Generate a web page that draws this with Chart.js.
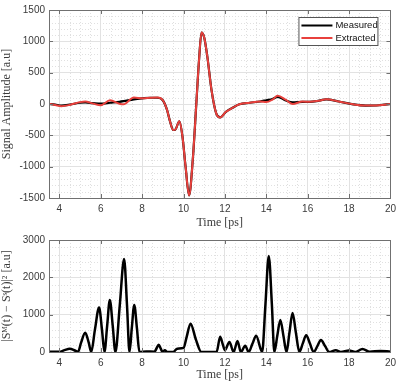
<!DOCTYPE html>
<html>
<head>
<meta charset="utf-8">
<script src="https://cdn.jsdelivr.net/npm/chart.js@4"></script>
<style>
    body { margin: 0; background: #fff; width: 401px; height: 382px; overflow: hidden; }
    canvas { position: absolute; left: 0; }
    #signalChart { top: 0; }
    #errorChart { top: 230px; }
</style>
</head>
<body>
<canvas id="signalChart" width="401" height="230"></canvas>
<canvas id="errorChart" width="401" height="152"></canvas>
<script>
// time axis ticks (ps)
const timeTicks = [4, 6, 8, 10, 12, 14, 16, 18, 20];

// top panel: measured vs extracted signal
const signalTime = [3.5, 3.8, 4.1, 4.5, 5.0, 5.25, 5.6, 6.0, 6.45, 6.9, 7.1, 7.6, 8.0, 8.4, 8.75, 9.0, 9.2, 9.35, 9.5, 9.6, 9.8, 9.95, 10.1, 10.27, 10.45, 10.62, 10.75, 10.87, 11.0, 11.15, 11.35, 11.58, 11.77, 12.05, 12.4, 12.7, 13.2, 13.7, 14.0, 14.3, 14.55, 14.95, 15.28, 15.75, 16.1, 16.5, 16.9, 17.5, 18.2, 18.8, 19.45, 20];
const measured = [0, -10, -25, -10, 20, 25, 15, 5, 20, 35, 45, 75, 90, 100, 100, 60, -90, -280, -415, -410, -275, -520, -1000, -1460, -880, 10, 700, 1140, 1060, 760, 230, -150, -215, -125, -55, -5, 20, 40, 60, 80, 115, 55, 25, 35, 35, 50, 75, 40, -5, -25, -20, 0];
const extracted = [5, -15, -35, -15, 30, 40, 10, -20, 60, 5, -5, 105, 90, 100, 105, 60, -90, -280, -415, -410, -275, -520, -1000, -1460, -880, 10, 700, 1140, 1060, 760, 230, -150, -215, -125, -55, -5, 20, 40, 30, 70, 130, 65, 0, 40, 35, 50, 75, 40, -5, -25, -20, 0];
const signalTicks = [-1500, -1000, -500, 0, 500, 1000, 1500];

// bottom panel: squared difference
const errorTime = [3.5, 4.0, 4.25, 4.5, 4.75, 4.9, 5.05, 5.25, 5.42, 5.54, 5.72, 5.92, 6.06, 6.18, 6.31, 6.44, 6.58, 6.71, 6.92, 7.13, 7.27, 7.39, 7.5, 7.62, 7.75, 7.87, 8.2, 8.6, 8.7, 8.8, 8.9, 8.99, 9.1, 9.2, 9.5, 9.7, 10.0, 10.15, 10.34, 10.6, 10.86, 11.6, 11.77, 11.9, 12.0, 12.22, 12.42, 12.61, 12.77, 12.98, 13.15, 13.33, 13.51, 13.8, 13.96, 14.12, 14.27, 14.39, 14.53, 14.68, 14.83, 14.98, 15.12, 15.27, 15.43, 15.6, 15.76, 15.93, 16.11, 16.29, 16.47, 16.64, 16.84, 17.04, 17.36, 17.6, 18.0, 18.3, 18.65, 19.0, 19.5, 20];
const errorValues = [5, 5, 50, 90, 40, 0, 250, 515, 250, 0, 600, 1190, 600, 0, 700, 1395, 700, 0, 1250, 2490, 1250, 0, 630, 1260, 630, 0, 15, 10, 100, 195, 90, 0, 50, 0, 0, 90, 110, 400, 760, 330, 0, 0, 410, 200, 50, 270, 0, 295, 0, 165, 0, 220, 435, 0, 1280, 2570, 1280, 0, 430, 860, 430, 0, 520, 1045, 520, 0, 225, 450, 225, 0, 160, 320, 160, 0, 50, 0, 40, 0, 80, 5, 30, 10];
const errorTicks = [0, 1000, 2000, 3000];

const toPoints = (xs, ys) => xs.map((x, i) => ({ x: x, y: ys[i] }));

// minor grid, axes box, inward ticks and the legend box
const framePlugin = {
    id: "frame",
    beforeDatasetsDraw(chart, args, opts) {
        const { ctx, chartArea: a, scales: { x, y } } = chart;
        ctx.save();
        ctx.strokeStyle = "#e0e0e0";
        ctx.lineWidth = 1;
        ctx.setLineDash([1, 2]);
        ctx.beginPath();
        for (let v = x.min; v <= x.max; v += 0.5) {
            if (v % 2 === 0) continue;
            const px = Math.round(x.getPixelForValue(v)) + 0.5;
            ctx.moveTo(px, a.top);
            ctx.lineTo(px, a.bottom);
        }
        for (let v = y.min; v <= y.max; v += opts.yMinor) {
            if (v % opts.yMajor === 0) continue;
            const py = Math.round(y.getPixelForValue(v)) + 0.5;
            ctx.moveTo(a.left, py);
            ctx.lineTo(a.right, py);
        }
        ctx.stroke();
        ctx.restore();
    },
    afterDatasetsDraw(chart, args, opts) {
        const { ctx, chartArea: a, scales: { x, y } } = chart;
        ctx.save();
        ctx.strokeStyle = "#707070";
        ctx.lineWidth = 1;
        ctx.beginPath();
        timeTicks.forEach(v => {
            const px = Math.round(x.getPixelForValue(v)) + 0.5;
            ctx.moveTo(px, a.bottom); ctx.lineTo(px, a.bottom - 4);
            ctx.moveTo(px, a.top); ctx.lineTo(px, a.top + 4);
        });
        opts.yTicks.forEach(v => {
            const py = Math.round(y.getPixelForValue(v)) + 0.5;
            ctx.moveTo(a.left, py); ctx.lineTo(a.left + 4, py);
            ctx.moveTo(a.right, py); ctx.lineTo(a.right - 4, py);
        });
        ctx.stroke();
        ctx.strokeRect(Math.round(a.left) + 0.5, Math.round(a.top) + 0.5, Math.round(a.right - a.left), Math.round(a.bottom - a.top));

        if (opts.legend) {
            const bx = a.right - 92, by = a.top + 7;
            ctx.fillStyle = "#fff";
            ctx.fillRect(bx, by, 79, 28);
            ctx.strokeStyle = "#555";
            ctx.strokeRect(bx + 0.5, by + 0.5, 79, 28);
            ctx.font = "9.5px 'Liberation Sans', Arial, sans-serif";
            ctx.textBaseline = "middle";
            chart.data.datasets.forEach((ds, i) => {
                const ly = by + 8.5 + i * 12.5;
                ctx.strokeStyle = ds.borderColor;
                ctx.lineWidth = 2;
                ctx.beginPath();
                ctx.moveTo(bx + 3, ly);
                ctx.lineTo(bx + 34, ly);
                ctx.stroke();
                ctx.fillStyle = "#111";
                ctx.fillText(ds.label, bx + 37, ly);
            });
        }
        ctx.restore();
    }
};

const tickFont = { family: "'Liberation Sans', Arial, sans-serif", size: 10 };
const titleFont = { family: "'Liberation Serif', 'Times New Roman', serif", size: 12 };

const createPanel = (id, datasets, yTitle, yTicks, yMinor, legend, topPad, xHeight) => {
    const ctx = document.getElementById(id).getContext("2d");

    return new Chart(ctx, {
        type: "line",
        data: { datasets: datasets },
        plugins: [framePlugin],
        options: {
            responsive: false,
            animation: false,
            devicePixelRatio: 1,
            layout: { padding: { top: topPad, right: 9, left: 0, bottom: 0 } },
            elements: { point: { radius: 0 } },
            plugins: {
                legend: { display: false },
                tooltip: { enabled: false },
                frame: { yMinor: yMinor, yMajor: yTicks[1] - yTicks[0], yTicks: yTicks, legend: legend }
            },
            scales: {
                x: {
                    type: "linear",
                    min: 3.5,
                    max: 20,
                    afterBuildTicks: scale => { scale.ticks = timeTicks.map(v => ({ value: v })); },
                    afterFit: scale => { scale.height = xHeight; },
                    grid: { color: "#e2e2e2", drawTicks: false },
                    border: { display: false },
                    ticks: { font: tickFont, color: "#3a3a3a", padding: 5, maxRotation: 0 },
                    title: { display: true, text: "Time [ps]", font: titleFont, color: "#3a3a3a", padding: 0 }
                },
                y: {
                    min: yTicks[0],
                    max: yTicks[yTicks.length - 1],
                    afterBuildTicks: scale => { scale.ticks = yTicks.map(v => ({ value: v })); },
                    afterFit: scale => { scale.width = 49; },
                    grid: { color: "#e2e2e2", drawTicks: false },
                    border: { display: false },
                    ticks: { font: tickFont, color: "#3a3a3a", padding: 4, callback: v => String(v) },
                    title: { display: true, text: yTitle, font: titleFont, color: "#3a3a3a", padding: 0 }
                }
            }
        }
    });
};

createPanel("signalChart", [
    {
        label: "Measured",
        data: toPoints(signalTime, measured),
        borderColor: "#000000",
        borderWidth: 2.2,
        cubicInterpolationMode: "monotone",
        order: 2
    },
    {
        label: "Extracted",
        data: toPoints(signalTime, extracted),
        borderColor: "#e8403c",
        borderWidth: 2,
        cubicInterpolationMode: "monotone",
        order: 1
    }
], "Signal Amplitude [a.u]", signalTicks, 100, true, 10, 32);

createPanel("errorChart", [
    {
        label: "Difference",
        data: toPoints(errorTime, errorValues),
        borderColor: "#000000",
        borderWidth: 2.5,
        cubicInterpolationMode: "monotone"
    }
], "|Sᴹ(t) − Sˢ(t)|² [a.u]", errorTicks, 200, false, 7, 30);
</script>
</body>
</html>
